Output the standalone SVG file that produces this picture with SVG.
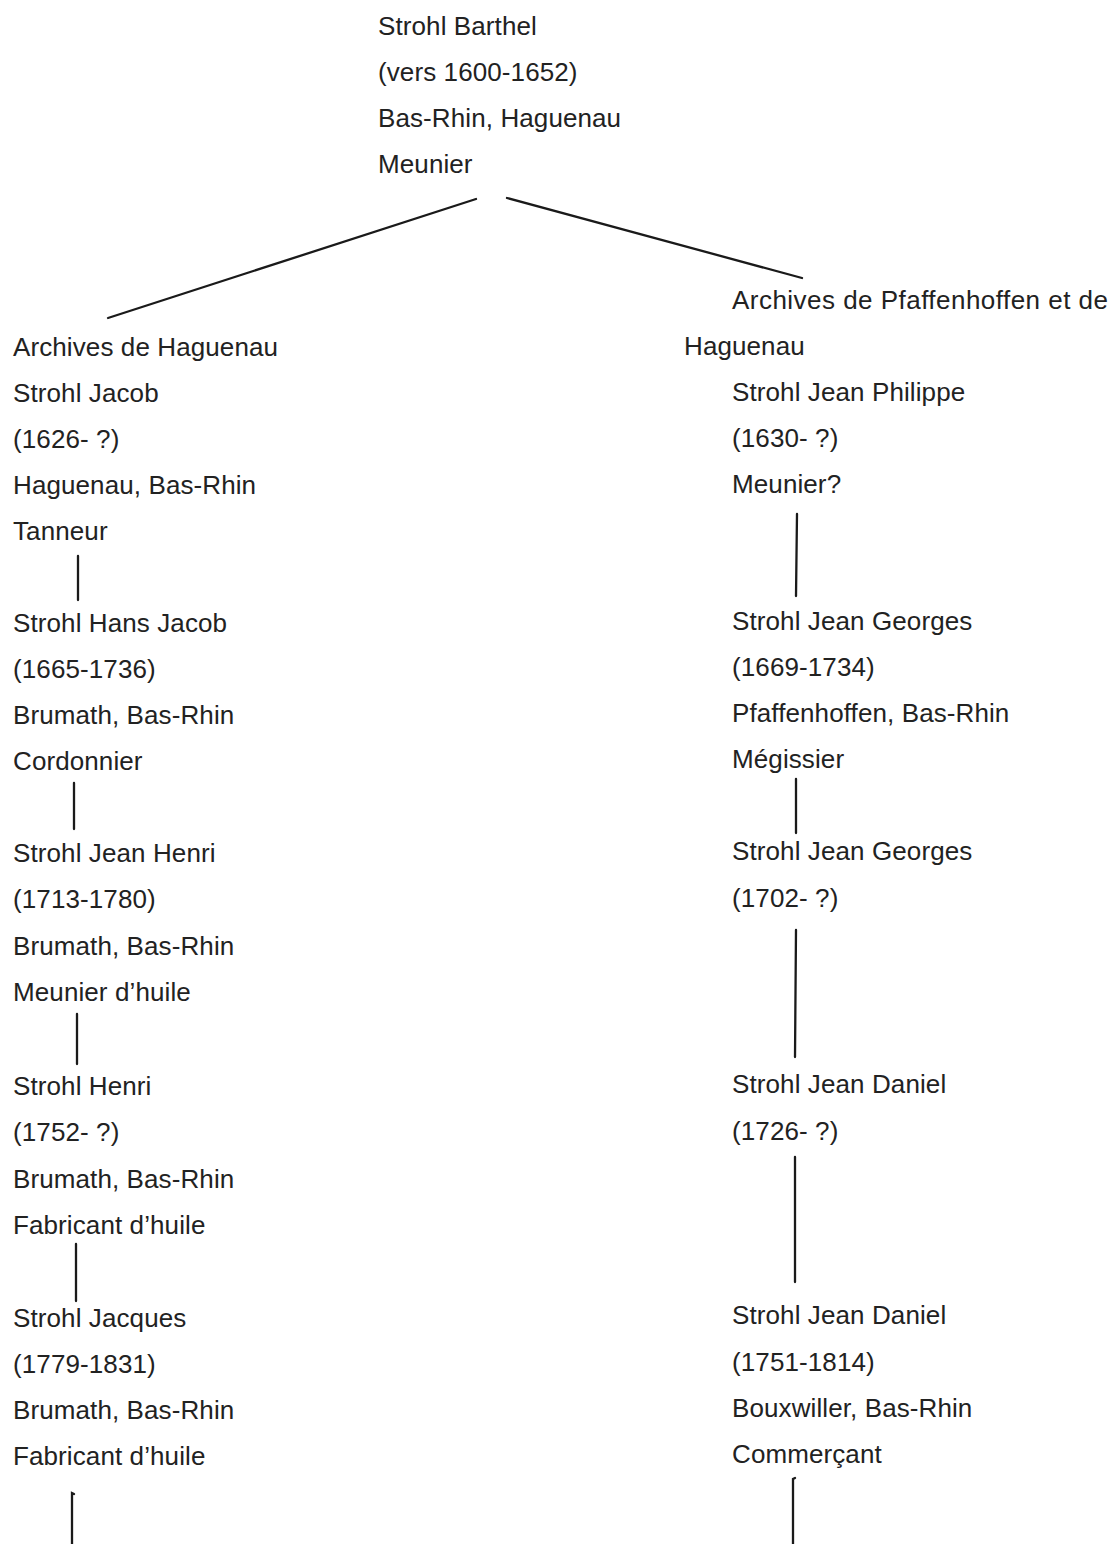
<svg xmlns="http://www.w3.org/2000/svg" width="1113" height="1544" viewBox="0 0 1113 1544">
<style>
text{font-family:"Liberation Sans",Arial,sans-serif;font-size:26px;letter-spacing:0.1px;fill:#222}
.c line,.c path{stroke:#1a1a1a;stroke-width:2.3;fill:none;stroke-linecap:round}
</style>
<rect width="1113" height="1544" fill="#fff"/>
<g class="c" id="connectors">
<line x1="476" y1="199" x2="108" y2="318"/>
<line x1="507" y1="198" x2="802" y2="278"/>
<line x1="78" y1="556" x2="78" y2="600"/>
<line x1="74" y1="783" x2="74" y2="829"/>
<line x1="77" y1="1014" x2="77" y2="1064"/>
<line x1="76" y1="1244" x2="76" y2="1301"/>
<path d="M74 1494 L72 1493 L72 1544"/>
<line x1="797" y1="514" x2="796" y2="596"/>
<line x1="796" y1="779" x2="796" y2="833"/>
<line x1="796" y1="930" x2="795" y2="1057"/>
<line x1="795" y1="1157" x2="795" y2="1282"/>
<path d="M795 1478 L793 1479 L793 1544"/>
</g>
<g id="n-barthel">
<text x="378" y="35">Strohl Barthel</text>
<text x="378" y="81">(vers 1600-1652)</text>
<text x="378" y="127">Bas-Rhin, Haguenau</text>
<text x="378" y="173">Meunier</text>
</g>
<g id="n-jacob">
<text x="13" y="356">Archives de Haguenau</text>
<text x="13" y="402">Strohl Jacob</text>
<text x="13" y="448">(1626- ?)</text>
<text x="13" y="494">Haguenau, Bas-Rhin</text>
<text x="13" y="540">Tanneur</text>
</g>
<g id="n-hansjacob">
<text x="13" y="632">Strohl Hans Jacob</text>
<text x="13" y="678">(1665-1736)</text>
<text x="13" y="724">Brumath, Bas-Rhin</text>
<text x="13" y="770">Cordonnier</text>
</g>
<g id="n-jeanhenri">
<text x="13" y="862">Strohl Jean Henri</text>
<text x="13" y="908">(1713-1780)</text>
<text x="13" y="955">Brumath, Bas-Rhin</text>
<text x="13" y="1001">Meunier d’huile</text>
</g>
<g id="n-henri">
<text x="13" y="1095">Strohl Henri</text>
<text x="13" y="1141">(1752- ?)</text>
<text x="13" y="1188">Brumath, Bas-Rhin</text>
<text x="13" y="1234">Fabricant d’huile</text>
</g>
<g id="n-jacques">
<text x="13" y="1327">Strohl Jacques</text>
<text x="13" y="1373">(1779-1831)</text>
<text x="13" y="1419">Brumath, Bas-Rhin</text>
<text x="13" y="1465">Fabricant d’huile</text>
</g>
<g id="n-jeanphilippe">
<text x="732" y="309" textLength="376">Archives de Pfaffenhoffen et de</text>
<text x="684" y="355">Haguenau</text>
<text x="732" y="401">Strohl Jean Philippe</text>
<text x="732" y="447">(1630- ?)</text>
<text x="732" y="493">Meunier?</text>
</g>
<g id="n-jeangeorges1">
<text x="732" y="630">Strohl Jean Georges</text>
<text x="732" y="676">(1669-1734)</text>
<text x="732" y="722">Pfaffenhoffen, Bas-Rhin</text>
<text x="732" y="768">Mégissier</text>
</g>
<g id="n-jeangeorges2">
<text x="732" y="860">Strohl Jean Georges</text>
<text x="732" y="907">(1702- ?)</text>
</g>
<g id="n-jeandaniel1">
<text x="732" y="1093">Strohl Jean Daniel</text>
<text x="732" y="1140">(1726- ?)</text>
</g>
<g id="n-jeandaniel2">
<text x="732" y="1324">Strohl Jean Daniel</text>
<text x="732" y="1371">(1751-1814)</text>
<text x="732" y="1417">Bouxwiller, Bas-Rhin</text>
<text x="732" y="1463">Commerçant</text>
</g>
</svg>
